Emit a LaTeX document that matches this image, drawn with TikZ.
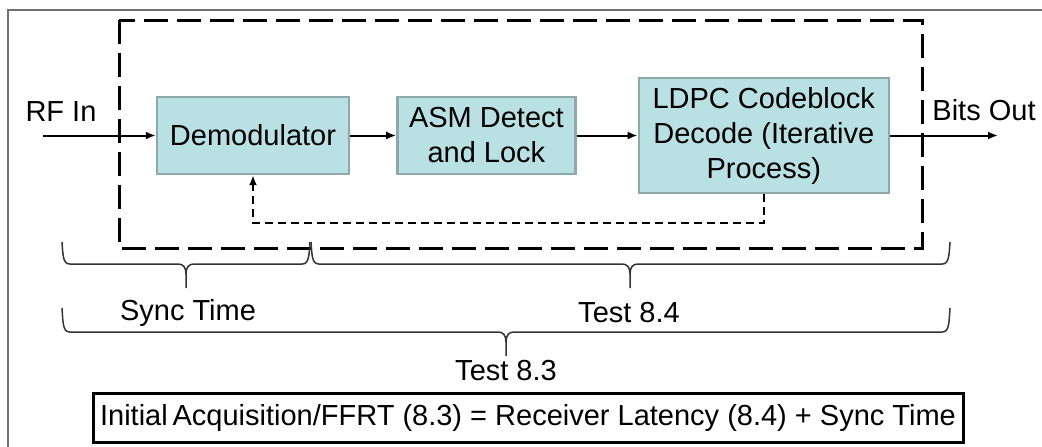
\documentclass[tikz,border=0pt]{standalone}
\usepackage{fontspec}
\setmainfont{Liberation Sans}
\usepackage{tikz}
\usetikzlibrary{arrows.meta,positioning}
\definecolor{boxfill}{HTML}{B9E0E3}
\definecolor{boxline}{HTML}{8DA9AB}
\definecolor{framegray}{HTML}{707070}
\definecolor{bracegray}{HTML}{333333}

\begin{document}
\begin{tikzpicture}[
  x=0.5pt, y=-0.5pt,
  font=\fontsize{14.5}{17.5}\selectfont,
  box/.style={draw=boxline, fill=boxfill, line width=1.2pt, align=center, minimum height=38.5pt, inner sep=1pt},
  arr/.style={-{Latex[length=5pt,width=4pt]}, line width=1pt},
  fb/.style={dash pattern=on 4pt off 2.5pt, line width=1pt},
  zone/.style={dash pattern=on 12pt off 4.5pt, line width=1.5pt},
  brc/.style={draw=bracegray, line width=0.75pt},
  lbl/.style={inner sep=0pt}
]
\useasboundingbox (0,0) rectangle (1042,446);
% frame and receiver zone
\draw[framegray, line width=0.6pt] (8,470) -- (8,10) -- (1060,10);
\draw[zone] (119,20) rectangle (922,248);

% blocks
\node[box, minimum width=96pt] (demod) at (253,135.5) {Demodulator};
\node[box, minimum width=89pt, right=23pt of demod] (asm) {ASM Detect\\and Lock};
\node[box, minimum width=125pt, minimum height=57.5pt, right=30.5pt of asm] (ldpc) {LDPC Codeblock\\Decode (Iterative\\Process)};

\coordinate (rfin) at (43,135.5);
\coordinate (bitsout) at (998,135.5);
\node[lbl] (rflbl) at (61,112) {RF In};
\node[lbl] (bitslbl) at (984,110) {Bits Out};

\draw[arr] (rfin) -- (demod);
\draw[arr] (demod) -- (asm);
\draw[arr] (asm) -- (ldpc);
\draw[arr] (ldpc) -- (bitsout);
\draw[fb, -{Latex[length=5pt,width=4pt]}] (ldpc.south) -- ++(0,29) -| (demod.south);

% braces
\draw[brc] (62,242) .. controls (63,256) and (63,264) .. (70,264) -- (178,264)
  .. controls (183,264) and (186,267) .. (186,274) -- (186,288);
\draw[brc] (310,242) .. controls (309,256) and (309,264) .. (302,264) -- (194,264)
  .. controls (189,264) and (186,267) .. (186,274);
\draw[brc] (311,242) .. controls (312,256) and (312,264) .. (319,264) -- (622,264)
  .. controls (627,264) and (630,267) .. (630,274) -- (630,288);
\draw[brc] (950,242) .. controls (949,256) and (949,264) .. (942,264) -- (638,264)
  .. controls (633,264) and (630,267) .. (630,274);
\draw[brc] (62,308) .. controls (63,324) and (63,332) .. (70,332) -- (498,332)
  .. controls (503,332) and (506,335) .. (506,342) -- (506,356);
\draw[brc] (950,308) .. controls (949,324) and (949,332) .. (942,332) -- (514,332)
  .. controls (509,332) and (506,335) .. (506,342);

\node[lbl] (sync) at (188,313) {Sync Time};
\node[lbl] (t84) at (629,313) {Test 8.4};
\node[lbl] (t83) at (506,371) {Test 8.3};

\node[draw, line width=1.5pt, minimum width=435pt, minimum height=24.5pt, inner sep=2pt] (eqn) at (528,417.5)
  {Initial\,Acquisition/FFRT (8.3) = Receiver Latency (8.4) + Sync Time};
\end{tikzpicture}
\end{document}
